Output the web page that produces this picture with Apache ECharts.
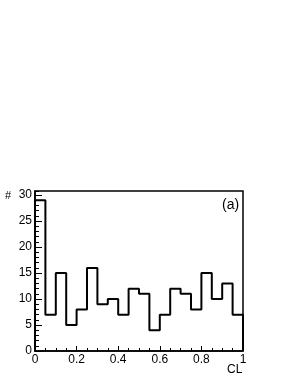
<!DOCTYPE html>
<html>
<head>
<meta charset="utf-8">
<script src="https://cdn.jsdelivr.net/npm/echarts@6/dist/echarts.min.js"></script>
<style>
html,body{margin:0;padding:0;background:#fff;}
#c{width:291px;height:376px;}
</style>
</head>
<body>
<div id="c"></div>
<script>
var binEdgesMin = 0;
var binWidth = 0.05;
var counts = [29, 7, 15, 5, 8, 16, 9, 10, 7, 12, 11, 4, 7, 12, 11, 8, 15, 10, 13, 7];
var xTicks = [0, 0.2, 0.4, 0.6, 0.8, 1];
var yTicks = [0, 5, 10, 15, 20, 25, 30];
var xTitle = 'CL';
var yTitle = '#';
var panelLabel = '(a)';

var pts = [];
for (var i = 0; i < counts.length; i++) {
  var lo = binEdgesMin + i * binWidth, hi = lo + binWidth;
  if (i === 0) pts.push([lo, 0]);
  pts.push([lo, counts[i]]);
  pts.push([hi, counts[i]]);
  if (i === counts.length - 1) pts.push([hi, 0]);
}

var font = 'Liberation Sans, Arial, Helvetica, sans-serif';
var chart = echarts.init(document.getElementById('c'), null, {renderer: 'canvas'});
var yMax = 30.8;
chart.setOption({
  animation: false,
  backgroundColor: '#fff',
  grid: {left: 35, right: 48, top: 191, bottom: 25, show: true, borderColor: '#000', borderWidth: 1.5, containLabel: false},
  xAxis: {
    type: 'value', min: 0, max: 1, interval: 0.2,
    axisLine: {show: true, onZero: false, lineStyle: {color: '#000', width: 1.5}},
    axisTick: {show: true, inside: true, length: 5, lineStyle: {color: '#000', width: 1}},
    minorTick: {show: true, splitNumber: 4, length: 3, lineStyle: {color: '#000', width: 1}},
    splitLine: {show: false},
    axisLabel: {show: true, margin: 3, color: '#000', fontFamily: font, fontSize: 12,
      formatter: function (v) { return xTicks.indexOf(Math.round(v*10)/10) >= 0 ? String(Math.round(v*10)/10) : ''; }}
  },
  yAxis: [{
    type: 'value', min: 0, max: yMax, interval: 1,
    axisLine: {show: true, onZero: false, lineStyle: {color: '#000', width: 1.5}},
    axisTick: {show: true, inside: true, length: 4, lineStyle: {color: '#000', width: 1}},
    splitLine: {show: false},
    axisLabel: {show: false}
  }, {
    type: 'value', min: 0, max: yMax, interval: 5, position: 'left', offset: 0,
    axisLine: {show: false},
    axisTick: {show: true, inside: true, length: 7, lineStyle: {color: '#000', width: 1}},
    splitLine: {show: false},
    axisLabel: {show: true, margin: 3, color: '#000', fontFamily: font, fontSize: 12, showMaxLabel: false,
      formatter: function (v) { return yTicks.indexOf(v) >= 0 ? String(v) : ''; }}
  }],
  series: [{
    type: 'line', yAxisIndex: 0, data: pts, showSymbol: false, symbol: 'none',
    lineStyle: {color: '#000', width: 2}, clip: false
  }],
  graphic: [
    {type: 'text', left: 227, top: 364, style: {text: xTitle, font: '12px ' + font, fill: '#000'}},
    {type: 'text', left: 5, top: 190, style: {text: yTitle, font: '11px ' + font, fill: '#000'}},
    {type: 'text', left: 222, top: 198, style: {text: panelLabel, font: '14px ' + font, fill: '#000'}}
  ]
});
</script>
</body>
</html>
